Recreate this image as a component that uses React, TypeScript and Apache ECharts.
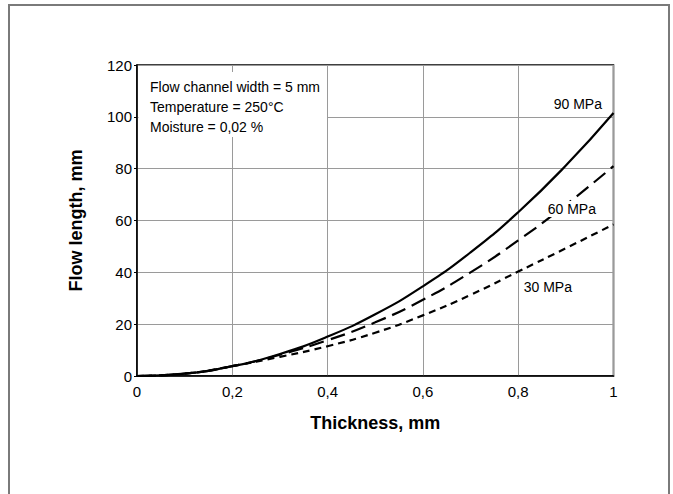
import React, { useEffect, useRef } from "react";
import * as echarts from "echarts";

const thickness = [0, 0.1, 0.2, 0.3, 0.4, 0.5, 0.6, 0.7, 0.8, 0.9, 1.0];
const flow90 = [0, 0.9, 3.8, 8.5, 15.2, 23.8, 34.6, 47.7, 63.2, 81.2, 101.5];
const flow60 = [0, 0.9, 3.8, 8.2, 13.8, 20.7, 29.4, 40, 52.3, 66, 81];
const flow30 = [0, 0.9, 3.8, 7.4, 11.5, 16.7, 23.4, 31.3, 40.3, 49.3, 58.5];
const infoLines = ["Flow channel width = 5 mm", "Temperature = 250°C", "Moisture = 0,02 %"];
const seriesLabels = ["90 MPa", "60 MPa", "30 MPa"];

const FONT = "'Liberation Sans', Arial, sans-serif";

export default function App() {
  const ref = useRef<HTMLDivElement>(null);
  useEffect(() => {
    if (!ref.current) return;
    const chart = echarts.init(ref.current, null, { renderer: "svg" });
    const mk = (vals: number[]) => thickness.map((t, i) => [t, vals[i]]);
    const lbl = (text: string, x: number, y: number) => ({
      type: "text",
      x,
      y,
      z: 6,
      style: {
        text,
        fontFamily: FONT,
        fontSize: 14,
        fill: "#000",
        align: "right",
        verticalAlign: "middle",
        backgroundColor: "#fff",
        padding: [1, 1, 1, 3],
      },
    });
    chart.setOption({
      animation: false,
      backgroundColor: "#fff",
      textStyle: { fontFamily: FONT, color: "#000" },
      grid: {
        left: 137,
        right: 59.5,
        top: 65,
        bottom: 118,
        show: true,
        borderColor: "#000",
        borderWidth: 1.5,
      },
      xAxis: {
        type: "value",
        min: 0,
        max: 1,
        interval: 0.2,
        name: "Thickness, mm",
        nameLocation: "middle",
        nameGap: 38,
        nameTextStyle: { fontFamily: FONT, fontSize: 18, fontWeight: "bold", color: "#000" },
        axisLine: { show: true, lineStyle: { color: "#000", width: 1.5 } },
        axisTick: { show: false },
        axisLabel: {
          fontFamily: FONT,
          fontSize: 15,
          color: "#000",
          margin: 8,
          formatter: (v: number) => String(Math.round(v * 10) / 10).replace(".", ","),
        },
        splitLine: { show: true, lineStyle: { color: "#9a9a9a", width: 1 } },
      },
      yAxis: {
        type: "value",
        min: 0,
        max: 120,
        interval: 20,
        name: "Flow length, mm",
        nameLocation: "middle",
        nameGap: 52,
        nameTextStyle: { fontFamily: FONT, fontSize: 18, fontWeight: "bold", color: "#000" },
        axisLine: { show: true, lineStyle: { color: "#000", width: 1.5 } },
        axisTick: { show: true, length: 3, lineStyle: { color: "#000" } },
        axisLabel: { fontFamily: FONT, fontSize: 15, color: "#000", margin: 5 },
        splitLine: { show: true, lineStyle: { color: "#9a9a9a", width: 1 } },
      },
      graphic: [
        {
          type: "rect",
          shape: { x: 9, y: 5, width: 660, height: 520 },
          style: { fill: "none", stroke: "#7a7a7a", lineWidth: 2 },
          z: 1,
        },
        {
          type: "rect",
          shape: { x: 138.5, y: 72, width: 188.5, height: 65 },
          style: { fill: "#fff" },
          z: 5,
        },
        ...infoLines.map((t, i) => ({
          type: "text",
          x: 150,
          y: 87 + i * 20,
          z: 6,
          style: { text: t, fontFamily: FONT, fontSize: 14, fill: "#000", verticalAlign: "middle" },
        })),
        lbl(seriesLabels[0], 603, 104),
        lbl(seriesLabels[1], 597, 209),
        lbl(seriesLabels[2], 573, 287),
      ],
      series: [
        {
          name: seriesLabels[0],
          type: "line",
          smooth: true,
          showSymbol: false,
          data: mk(flow90),
          lineStyle: { color: "#000", width: 2.2, type: "solid" },
          z: 3,
        },
        {
          name: seriesLabels[1],
          type: "line",
          smooth: true,
          showSymbol: false,
          data: mk(flow60),
          lineStyle: { color: "#000", width: 2.2, type: [15, 7] },
          z: 3,
        },
        {
          name: seriesLabels[2],
          type: "line",
          smooth: true,
          showSymbol: false,
          data: mk(flow30),
          lineStyle: { color: "#000", width: 2.2, type: [7, 5] },
          z: 3,
        },
      ],
    });
    return () => chart.dispose();
  }, []);
  return (
    <div
      ref={ref}
      style={{ position: "absolute", left: 0, top: 0, width: 673, height: 494 }}
    />
  );
}
